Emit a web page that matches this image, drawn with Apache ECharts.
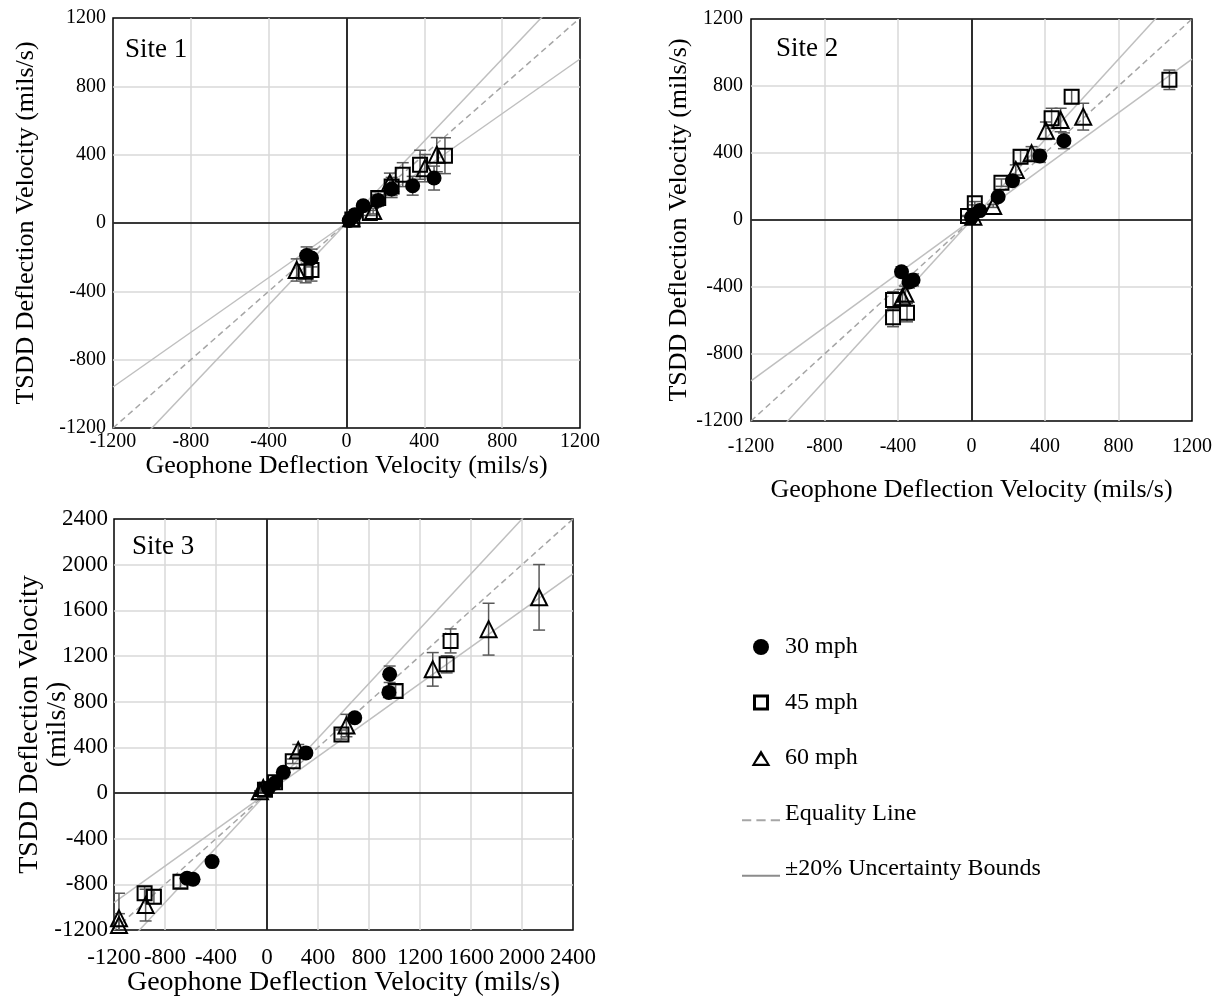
<!DOCTYPE html>
<html>
<head>
<meta charset="utf-8">
<script src="https://cdn.jsdelivr.net/npm/echarts@6/dist/echarts.min.js"></script>
<style>
  html, body { margin: 0; padding: 0; background: #fff; }
  #chart { width: 1222px; height: 1003px; }
</style>
</head>
<body>
<div id="chart"></div>
<script>
// Geophone vs TSDD deflection velocity (mils/s), three test sites, three speeds.
// Each point: [geophone, TSDD]; each error array: half-width of the TSDD error bar.

const speedNames = ['30 mph', '45 mph', '60 mph'];

// Site 1
const site1_30 = [[14, 15], [43, 49], [86, 101], [163, 132], [232, 199], [340, 218], [450, 263], [-205, -190], [-180, -205]];
const site1_30_err = [4, 12, 25, 33, 50, 55, 70, 50, 52];
const site1_45 = [[30, 20], [120, 59], [163, 146], [232, 214], [289, 283], [378, 341], [506, 394], [-210, -285], [-180, -275]];
const site1_45_err = [5, 15, 36, 53, 70, 85, 105, 65, 65];
const site1_60 = [[25, 28], [137, 70], [223, 234], [403, 321], [464, 400], [-256, -275]];
const site1_60_err = [6, 17, 58, 80, 100, 65];

// Site 2
const site2_30 = [[0, 16], [45, 56], [145, 139], [223, 235], [372, 382], [503, 473], [-381, -309], [-340, -370], [-318, -358]];
const site2_30_err = [2, 6, 14, 24, 38, 47, 30, 36, 36];
const site2_45 = [[-19, 24], [18, 100], [163, 223], [267, 378], [436, 607], [545, 736], [1077, 837], [-427, -478], [-427, -581], [-351, -553]];
const site2_45_err = [3, 10, 22, 38, 60, 40, 58, 50, 56, 55];
const site2_60 = [[10, 20], [118, 84], [241, 299], [327, 398], [405, 533], [485, 597], [608, 617], [-376, -461], [-360, -440]];
const site2_60_err = [3, 9, 30, 40, 52, 70, 80, 46, 45];

// Site 3
const site3_30 = [[11, 44], [63, 88], [128, 181], [305, 351], [688, 659], [962, 1040], [956, 881], [-431, -601], [-627, -747], [-580, -756]];
const site3_30_err = [3, 5, 10, 20, 35, 72, 45, 30, 35, 35];
const site3_45 = [[-16, 28], [63, 95], [202, 278], [584, 512], [1009, 893], [1409, 1127], [1440, 1332], [-679, -777], [-960, -879], [-887, -909]];
const site3_45_err = [3, 8, 20, 40, 55, 75, 105, 55, 60, 60];
const site3_60 = [[-55, 15], [-29, 43], [245, 375], [623, 591], [1300, 1083], [1738, 1435], [2134, 1714], [-952, -982], [-1161, -1098], [-1161, -1157]];
const site3_60_err = [5, 6, 50, 98, 147, 227, 287, 139, 220, 100];

// Axis ranges and tick step
const site12Range = [-1200, 1200];
const site3Range = [-1200, 2400];
const tickStep = 400;
// Equality line and ±20% bounds as slopes through the origin
const equalitySlope = 1.0;
const boundSlopes = [0.8, 1.2];

const siteTitles = ['Site 1', 'Site 2', 'Site 3'];
const xTitle = 'Geophone Deflection Velocity (mils/s)';
const yTitle = 'TSDD Deflection Velocity (mils/s)';
const yTitleWrapped = 'TSDD Deflection Velocity\n(mils/s)';
const legendNames = ['30 mph', '45 mph', '60 mph', 'Equality Line', '±20% Uncertainty Bounds'];

const sites = [
  { pts: [site1_30, site1_45, site1_60], err: [site1_30_err, site1_45_err, site1_60_err], range: site12Range },
  { pts: [site2_30, site2_45, site2_60], err: [site2_30_err, site2_45_err, site2_60_err], range: site12Range },
  { pts: [site3_30, site3_45, site3_60], err: [site3_30_err, site3_45_err, site3_60_err], range: site3Range }
];

const FONT = 'Liberation Serif';

const grids = [
  { left: 113, top: 18, width: 467, height: 410 },
  { left: 751, top: 19, width: 441, height: 402 },
  { left: 114, top: 519, width: 459, height: 411 }
];

const tickFont = [20, 20, 23];
const nameFont = [26, 26, 28];
const xLabelMargin = [4, 16, 16];
const xNameGap = [25, 56, 39];
const yLabelMargin = [7, 8, 6];
const yNameGap = [73, 58, 42];

const splitStyle = { show: true, showMinLine: false, showMaxLine: false, lineStyle: { color: '#d9d9d9', width: 1.5 } };
const plainNumber = v => String(v);

const xAxes = grids.map((g, i) => ({
  type: 'value', gridIndex: i,
  min: sites[i].range[0], max: sites[i].range[1], interval: tickStep,
  name: xTitle, nameLocation: 'middle', nameGap: xNameGap[i], nameMoveOverlap: false,
  nameTextStyle: { fontFamily: FONT, fontSize: nameFont[i], color: '#000' },
  axisLine: { show: false }, axisTick: { show: false },
  axisLabel: { fontFamily: FONT, fontSize: tickFont[i], color: '#000', margin: xLabelMargin[i], formatter: plainNumber },
  splitLine: splitStyle
}));

const yAxes = grids.map((g, i) => ({
  type: 'value', gridIndex: i,
  min: sites[i].range[0], max: sites[i].range[1], interval: tickStep,
  name: i === 2 ? yTitleWrapped : yTitle, nameLocation: 'middle', nameRotate: 90,
  nameGap: yNameGap[i], nameMoveOverlap: false,
  nameTextStyle: { fontFamily: FONT, fontSize: nameFont[i], color: '#000', lineHeight: 28 },
  axisLine: { show: false }, axisTick: { show: false },
  axisLabel: { fontFamily: FONT, fontSize: tickFont[i], color: '#000', margin: yLabelMargin[i], formatter: plainNumber },
  splitLine: splitStyle
}));

const markerStyles = [
  { symbol: 'circle', size: 15, itemStyle: { color: '#000', borderColor: '#000', borderWidth: 0, opacity: 1 } },
  { symbol: 'rect', size: 14, itemStyle: { color: 'rgba(0,0,0,0)', borderColor: '#000', borderWidth: 2, opacity: 1 } },
  { symbol: 'triangle', size: 16, itemStyle: { color: 'rgba(0,0,0,0)', borderColor: '#000', borderWidth: 2, opacity: 1 } }
];

function errorBarSeries(pts, err, gi, name) {
  return {
    type: 'custom', name: name, xAxisIndex: gi, yAxisIndex: gi, z: 3, clip: true, silent: true,
    data: pts.map((p, k) => [p[0], p[1] - err[k], p[1] + err[k]]),
    renderItem: function (params, api) {
      const x = api.value(0);
      const lo = api.coord([x, api.value(1)]);
      const hi = api.coord([x, api.value(2)]);
      const w = 6;
      const style = { stroke: '#595959', lineWidth: 1.5, fill: null };
      return {
        type: 'group',
        children: [
          { type: 'line', shape: { x1: lo[0], y1: lo[1], x2: hi[0], y2: hi[1] }, style: style },
          { type: 'line', shape: { x1: lo[0] - w, y1: lo[1], x2: lo[0] + w, y2: lo[1] }, style: style },
          { type: 'line', shape: { x1: hi[0] - w, y1: hi[1], x2: hi[0] + w, y2: hi[1] }, style: style }
        ]
      };
    }
  };
}

const series = [];
sites.forEach((s, gi) => {
  const r = s.range;
  // equality line, with the zero axes drawn as mark lines
  series.push({
    type: 'line', name: legendNames[3], xAxisIndex: gi, yAxisIndex: gi, z: 2,
    data: [[r[0], r[0] * equalitySlope], [r[1], r[1] * equalitySlope]],
    showSymbol: false, symbol: 'none', silent: true,
    itemStyle: { color: '#a6a6a6' },
    lineStyle: { color: '#a6a6a6', width: 1.5, type: [6, 4] },
    markLine: {
      silent: true, symbol: 'none', label: { show: false },
      lineStyle: { color: '#000', width: 1.6, type: 'solid' },
      data: [{ xAxis: 0 }, { yAxis: 0 }]
    }
  });
  boundSlopes.forEach(b => {
    series.push({
      type: 'line', name: legendNames[4], xAxisIndex: gi, yAxisIndex: gi, z: 2,
      data: [[r[0], r[0] * b], [r[1], r[1] * b]],
      showSymbol: false, symbol: 'none', silent: true,
      itemStyle: { color: '#bfbfbf' },
      lineStyle: { color: '#bfbfbf', width: 1.5 }
    });
  });
  s.pts.forEach((pts, k) => {
    series.push(errorBarSeries(pts, s.err[k], gi, speedNames[k] + ' error'));
  });
  s.pts.forEach((pts, k) => {
    const m = markerStyles[k];
    series.push({
      type: 'scatter', name: speedNames[k], xAxisIndex: gi, yAxisIndex: gi, z: 4,
      data: pts, symbol: m.symbol, symbolSize: m.size, itemStyle: m.itemStyle
    });
  });
});

// legend glyphs: filled circle, hollow square, hollow triangle, dashed and solid short lines
const legendIcons = [
  'circle',
  'path://M0,0H16V16H0Z M3,3V13H13V3Z',
  'path://M10,0L20,17H0Z M10,5.5L3.8,14.5H16.2Z',
  'path://M0,0L0.01,0L0,0.01Z M0,13H9V15H0Z M14,13H23V15H14Z M28,13H37V15H28Z',
  'path://M0,0L0.01,0L0,0.01Z M0,13H37V15H0Z'
];
const legendColors = ['#000', '#000', '#000', '#a6a6a6', '#8c8c8c'];

const chart = echarts.init(document.getElementById('chart'), null, { renderer: 'canvas' });
chart.setOption({
  animation: false,
  backgroundColor: '#fff',
  title: [
    { text: siteTitles[0], left: 120, top: 31 },
    { text: siteTitles[1], left: 771, top: 30 },
    { text: siteTitles[2], left: 127, top: 528 }
  ].map(t => Object.assign(t, { textStyle: { fontFamily: FONT, fontSize: 27, fontWeight: 'normal', color: '#000' } })),
  grid: grids.map(g => Object.assign({}, g, { show: true, borderColor: '#000', borderWidth: 1.5, backgroundColor: 'transparent' })),
  xAxis: xAxes,
  yAxis: yAxes,
  legend: {
    orient: 'vertical', left: 737, top: 630,
    itemWidth: 38, itemHeight: 16, itemGap: 31.5,
    data: legendNames.map((n, i) => ({
      name: n, icon: legendIcons[i],
      itemStyle: { color: legendColors[i], borderWidth: 0, opacity: 1 }
    })),
    textStyle: { fontFamily: FONT, fontSize: 24, color: '#000', lineHeight: 24 },
    selectedMode: false
  },
  series: series
});
</script>
</body>
</html>
